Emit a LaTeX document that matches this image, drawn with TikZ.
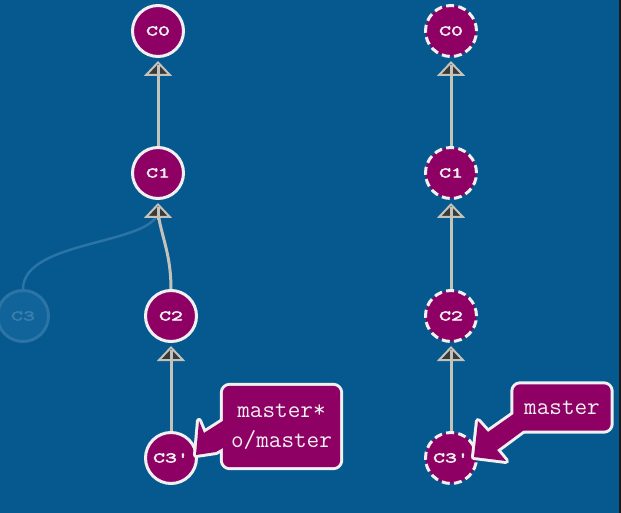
\documentclass[tikz,border=0pt]{standalone}
\usepackage{fontspec}
\usetikzlibrary{arrows.meta}
\newfontfamily\commitfont[FakeStretch=1.6,FakeBold=3.5,Ligatures=TeXOff]{Latin Modern Mono}
\newfontfamily\labelfont[Ligatures=TeXOff]{Latin Modern Mono}
\definecolor{bg}{HTML}{05598F}
\definecolor{cpurple}{HTML}{8E0063}
\definecolor{cwhite}{HTML}{F0F0F0}
\definecolor{edgec}{HTML}{C3C3BC}
\definecolor{tridark}{HTML}{3A3A3A}
\definecolor{fadefill}{HTML}{10649A}
\definecolor{fadeline}{HTML}{2C74A6}
\definecolor{fadetext}{HTML}{3A7EAB}
\definecolor{strip}{HTML}{1A1A1A}
\tikzset{
  commit/.style={circle, draw=cwhite, fill=cpurple, line width=3pt, minimum size=51pt,
    inner sep=0pt, text=cwhite, font=\commitfont\fontsize{14.5}{14.5}\selectfont},
  dcommit/.style={commit, dash pattern=on 8pt off 4.3pt},
  fadedcommit/.style={commit, draw=fadeline, fill=fadefill, text=fadetext},
  parent/.style={draw=edgec, line width=3pt,
    -{Triangle[width=28pt,length=15pt,fill=tridark,line width=2pt]}, shorten >=3pt},
  edgeline/.style={draw=edgec, line width=3pt},
  midline/.style={edgeline, shorten >=7pt},
  fadededge/.style={draw=fadeline, line width=2.5pt, shorten >=10pt},
  boxshape/.style={rectangle, rounded corners=7pt, minimum width=117pt, inner sep=0pt,
    text=cwhite, align=center, font=\labelfont\fontsize{24.5}{30}\selectfont},
  outline/.style={draw=cwhite, line width=6pt, line join=round},
  inner/.style={fill=cpurple},
}
\begin{document}
\begin{tikzpicture}[x=1pt,y=-1pt]
\useasboundingbox (0,0) rectangle (621,513);
\fill[bg] (0,0) rectangle (621,513);
\fill[strip] (619,0) rectangle (621,513);

% left column commits
\node[commit] (c0) at (158,31) {C0};
\node[commit] (c1) at (158,173) {C1};
\node[commit] (c2) at (171,316) {C2};
\node[commit] (c3p) at (171,458) {C3'};
\node[fadedcommit] (c3) at (23,316) {C3};

% right column commits
\node[dcommit] (r0) at (451,31) {C0};
\node[dcommit] (r1) at (451,173) {C1};
\node[dcommit] (r2) at (451,316) {C2};
\node[dcommit] (r3) at (451,458) {C3'};

% left edges
\draw[fadededge] (c3.north) .. controls +(0,-50) and +(0,45) .. (c1.south);
\draw[parent] (c1) -- (c0);
\draw[midline] (c1) -- (c0);
\draw[midline] (c2.north) .. controls +(0,-40) and +(0,30) .. (c1.south);
\draw[parent] (c1.south) ++(0,20) -- (c1.south);
\draw[midline] (c1.south) ++(0,20) -- (c1.south);
\draw[parent] (c3p) -- (c2);
\draw[midline] (c3p) -- (c2);

% right edges
\draw[parent] (r1) -- (r0);
\draw[midline] (r1) -- (r0);
\draw[parent] (r2) -- (r1);
\draw[midline] (r2) -- (r1);
\draw[parent] (r3) -- (r2);
\draw[midline] (r3) -- (r2);

% left branch label
\node[boxshape, minimum height=81pt] (lb) at (281.5,426.5) {master*\\o/master};
\coordinate (lt) at (196,455);
\path[outline] (lb.west |- 0,421) -- (204,433) -- (199,421) -- (lt) -- (216,452) -- (lb.west |- 0,448) -- cycle;
\path[outline] (lb.south west) [rounded corners=7pt] rectangle (lb.north east);
\path[inner] (lb.south west) [rounded corners=7pt] rectangle (lb.north east);
\path[inner] (lb.west |- 0,421) -- (204,433) -- (199,421) -- (lt) -- (216,452) -- (lb.west |- 0,448) -- cycle;
\node[boxshape, minimum height=81pt] at (lb.center) {master*\\o/master};

% right branch label
\node[boxshape, minimum width=97pt, minimum height=46pt] (rb) at (562,407.5) {master};
\coordinate (rt) at (474,457);
\path[outline] (515,413) -- (488,432) -- (478,421) -- (rt) -- (506,461) -- (497,450) -- (524,430) -- cycle;
\path[outline] (rb.south west) [rounded corners=7pt] rectangle (rb.north east);
\path[inner] (rb.south west) [rounded corners=7pt] rectangle (rb.north east);
\path[inner] (515,413) -- (488,432) -- (478,421) -- (rt) -- (506,461) -- (497,450) -- (524,430) -- cycle;
\node[boxshape, minimum width=97pt, minimum height=46pt] at (rb.center) {master};
\end{tikzpicture}
\end{document}
